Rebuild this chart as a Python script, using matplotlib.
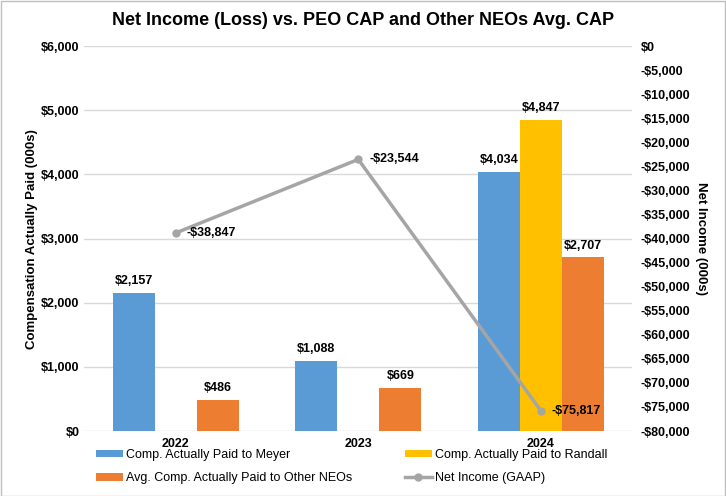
import numpy as np
import matplotlib.pyplot as plt
from matplotlib.ticker import FuncFormatter

plt.rcParams['font.family'] = ['Liberation Sans', 'DejaVu Sans']

years = ['2022', '2023', '2024']
meyer = [2157, 1088, 4034]
randall = [np.nan, np.nan, 4847]
other_neos = [486, 669, 2707]
net_income = [-38847, -23544, -75817]

blue = '#5B9BD5'
yellow = '#FFC000'
orange = '#ED7D31'
gray = '#A5A5A5'

fig = plt.figure(figsize=(7.26, 4.96), dpi=100)
ax = fig.add_axes([0.116, 0.131, 0.755, 0.776])
x = np.arange(len(years))
w = 0.23

# 2022/2023 have no Randall bar, so only 2024 uses the middle slot
b1 = ax.bar(x - w, meyer, w, color=blue, zorder=2)
b2 = ax.bar(x, randall, w, color=yellow, zorder=2)
b3 = ax.bar(x + w, other_neos, w, color=orange, zorder=2)

for bars, vals in [(b1, meyer), (b2, randall), (b3, other_neos)]:
    for rect, v in zip(bars, vals):
        if np.isnan(v):
            continue
        ax.text(rect.get_x() + rect.get_width() / 2, v + 90, f'${v:,.0f}',
                ha='center', va='bottom', fontsize=9, fontweight='bold')

ax.set_ylim(0, 6000)
ax.set_yticks(np.arange(0, 6001, 1000))
ax.yaxis.set_major_formatter(FuncFormatter(lambda v, p: f'${v:,.0f}'))
ax.set_xlim(-0.5, 2.5)
ax.set_xticks(x)
ax.set_xticklabels(years, fontweight='bold', fontsize=9)
ax.grid(axis='y', color='#D9D9D9', linewidth=1, zorder=0)
ax.tick_params(length=0, labelsize=9)
ax.tick_params(axis='x', pad=5)
for lab in ax.get_yticklabels():
    lab.set_fontweight('bold')
for s in ax.spines.values():
    s.set_visible(False)
ax.set_ylabel('Compensation Actually Paid (000s)', fontweight='bold', fontsize=9.5, labelpad=2)

ax2 = ax.twinx()
ln, = ax2.plot(x, net_income, color=gray, linewidth=2.5, marker='o', markersize=5, zorder=3)
for xi, v in zip(x, net_income):
    ax2.text(xi + 0.06, v, f'-${abs(v):,.0f}', ha='left', va='center',
             fontsize=9, fontweight='bold')
ax2.set_ylim(-80000, 0)
ax2.set_yticks(np.arange(-80000, 1, 5000))
ax2.yaxis.set_major_formatter(FuncFormatter(lambda v, p: f'-${abs(v):,.0f}' if v < 0 else '$0'))
ax2.tick_params(length=0, labelsize=9, pad=6)
for lab in ax2.get_yticklabels():
    lab.set_fontweight('bold')
for s in ax2.spines.values():
    s.set_visible(False)
ax2.set_ylabel('Net Income (000s)', fontweight='bold', fontsize=9.5, rotation=270, labelpad=12)

fig.suptitle('Net Income (Loss) vs. PEO CAP and Other NEOs Avg. CAP', fontweight='bold',
             fontsize=13, y=0.975)

# column-major fill: Meyer/Avg in column 1, Randall/Net Income in column 2
fig.legend([b1, b3, b2, ln],
           ['Comp. Actually Paid to Meyer', 'Avg. Comp. Actually Paid to Other NEOs',
            'Comp. Actually Paid to Randall', 'Net Income (GAAP)'],
           loc='upper left', bbox_to_anchor=(0.132, 0.095), ncol=2, frameon=False,
           fontsize=9, handlelength=2.2, handleheight=0.6, handletextpad=0.2,
           columnspacing=4.2, labelspacing=0.9, borderaxespad=0, borderpad=0)

fig.patches.append(plt.Rectangle((0.001, 0.001), 0.997, 0.997, transform=fig.transFigure,
                                 fill=False, edgecolor='#BFBFBF', linewidth=1))
fig.savefig('out.png', dpi=100)
